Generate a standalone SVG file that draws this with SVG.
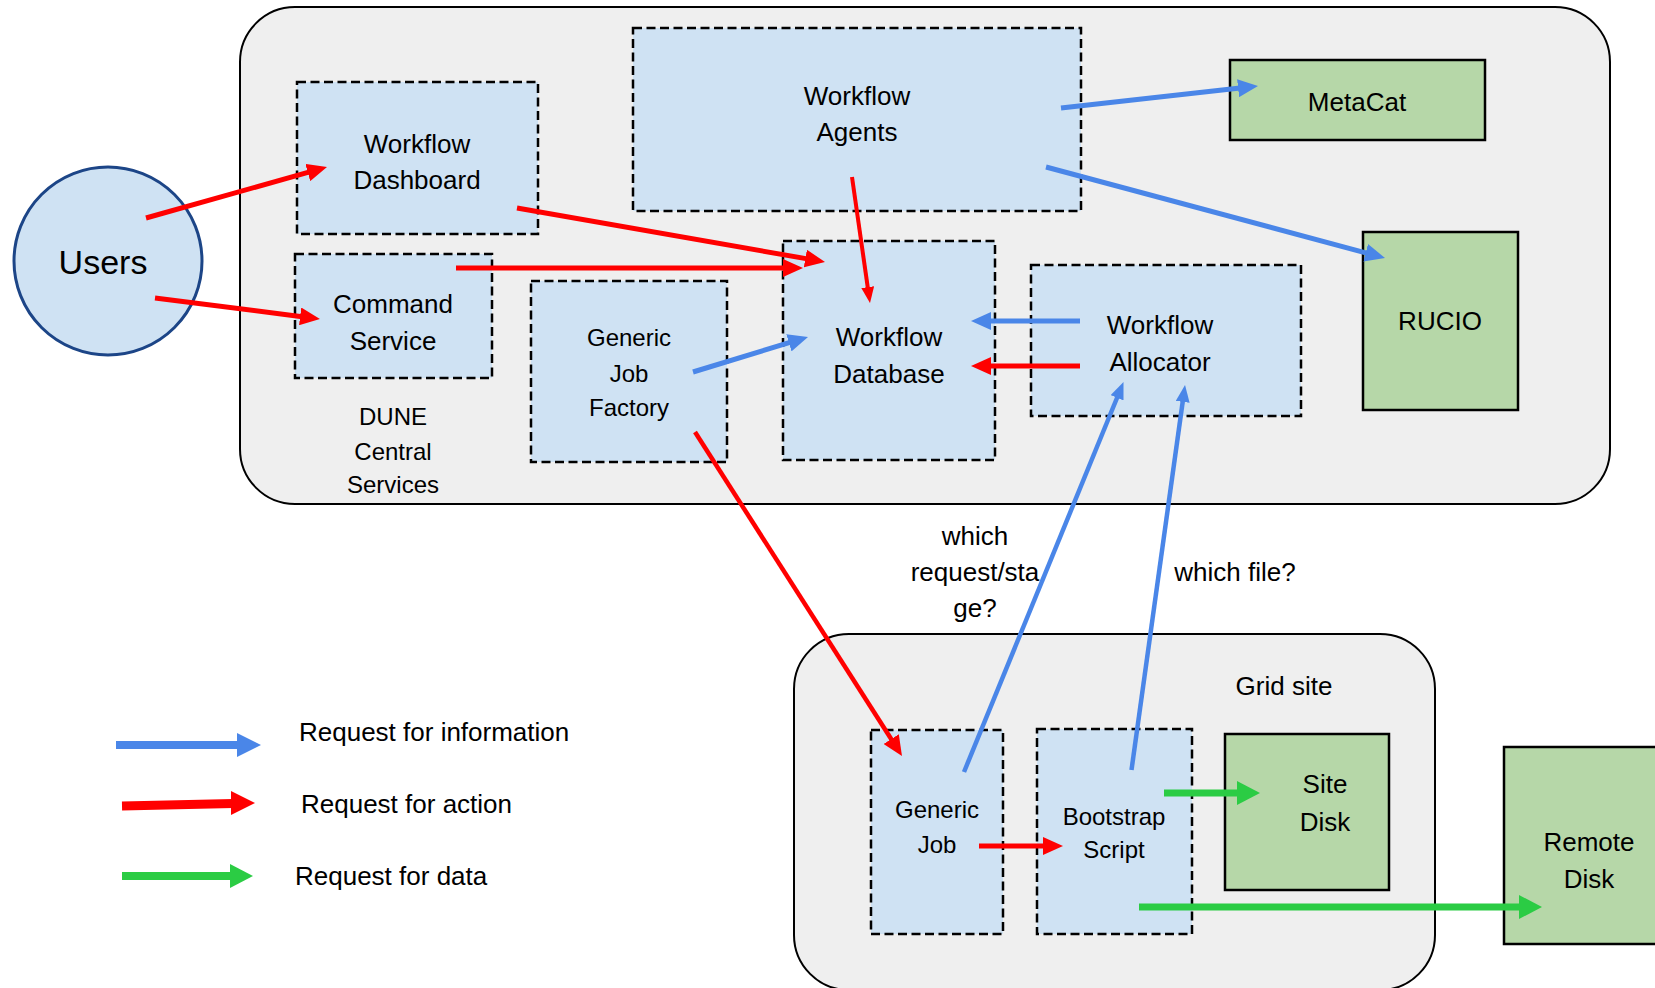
<svg xmlns="http://www.w3.org/2000/svg" width="1655" height="988" viewBox="0 0 1655 988">
<style>
.container{fill:#efefef;stroke:#000;stroke-width:2}
.bluebox{fill:#cfe2f3;stroke:#000;stroke-width:2.5;stroke-dasharray:9 4.5}
.greenbox{fill:#b6d7a8;stroke:#000;stroke-width:2.5}
text{font-family:"Liberation Sans",Arial,sans-serif;font-size:26px;fill:#000;text-anchor:middle}
.sm{font-size:24px}
.lg{text-anchor:start}
.red{stroke:#ff0000;stroke-width:5;fill:none}
.redthin{stroke:#ff0000;stroke-width:4;fill:none}
.blue{stroke:#4a86e8;stroke-width:5;fill:none}
.bluethin{stroke:#4a86e8;stroke-width:4.5;fill:none}
.green{stroke:#2bcc44;stroke-width:7;fill:none}
</style>
<defs>
<marker id="hRed" markerUnits="userSpaceOnUse" viewBox="0 0 20 18" markerWidth="20" markerHeight="18" refX="2" refY="9" orient="auto"><path d="M0,0 L20,9 L0,18 z" fill="#ff0000"/></marker>
<marker id="hRedThin" markerUnits="userSpaceOnUse" viewBox="0 0 16 13" markerWidth="16" markerHeight="13" refX="2" refY="6.5" orient="auto"><path d="M0,0 L16,6.5 L0,13 z" fill="#ff0000"/></marker>
<marker id="hBlue" markerUnits="userSpaceOnUse" viewBox="0 0 20 18" markerWidth="20" markerHeight="18" refX="2" refY="9" orient="auto"><path d="M0,0 L20,9 L0,18 z" fill="#4a86e8"/></marker>
<marker id="hBlueThin" markerUnits="userSpaceOnUse" viewBox="0 0 17 14" markerWidth="17" markerHeight="14" refX="3" refY="7" orient="auto"><path d="M0,0 L17,7 L0,14 z" fill="#4a86e8"/></marker>
<marker id="hGreen" markerUnits="userSpaceOnUse" viewBox="0 0 23 24" markerWidth="23" markerHeight="24" refX="2" refY="12" orient="auto"><path d="M0,0 L23,12 L0,24 z" fill="#2bcc44"/></marker>
</defs>
<rect width="1655" height="988" fill="#fff"/>

<g id="central-services">
<rect class="container" x="240" y="7" width="1370" height="497" rx="55" ry="55"/>
<text class="sm" x="393" y="425">DUNE</text>
<text class="sm" x="393" y="460">Central</text>
<text class="sm" x="393" y="493">Services</text>
</g>

<g id="grid-site">
<rect class="container" x="794" y="634" width="641" height="356" rx="55" ry="55"/>
<text x="1284" y="695">Grid site</text>
</g>

<g id="users">
<ellipse cx="108" cy="261" rx="94" ry="94" fill="#cfe2f3" stroke="#1c4587" stroke-width="3"/>
<text x="103" y="274" style="font-size:34px">Users</text>
</g>

<g id="workflow-dashboard">
<rect class="bluebox" x="297" y="82" width="241" height="152"/>
<text x="417" y="153">Workflow</text>
<text x="417" y="189">Dashboard</text>
</g>

<g id="command-service">
<rect class="bluebox" x="295" y="254" width="197" height="124"/>
<text x="393" y="313">Command</text>
<text x="393" y="350">Service</text>
</g>

<g id="generic-job-factory">
<rect class="bluebox" x="531" y="281" width="196" height="181"/>
<text class="sm" x="629" y="346">Generic</text>
<text class="sm" x="629" y="382">Job</text>
<text class="sm" x="629" y="416">Factory</text>
</g>

<g id="workflow-agents">
<rect class="bluebox" x="633" y="28" width="448" height="183"/>
<text x="857" y="105">Workflow</text>
<text x="857" y="141">Agents</text>
</g>

<g id="workflow-database">
<rect class="bluebox" x="783" y="241" width="212" height="219"/>
<text x="889" y="346">Workflow</text>
<text x="889" y="383">Database</text>
</g>

<g id="workflow-allocator">
<rect class="bluebox" x="1031" y="265" width="270" height="151"/>
<text x="1160" y="334">Workflow</text>
<text x="1160" y="371">Allocator</text>
</g>

<g id="metacat">
<rect class="greenbox" x="1230" y="60" width="255" height="80"/>
<text x="1357" y="111">MetaCat</text>
</g>

<g id="rucio">
<rect class="greenbox" x="1363" y="232" width="155" height="178"/>
<text x="1440" y="330">RUCIO</text>
</g>

<g id="generic-job">
<rect class="bluebox" x="871" y="730" width="132" height="204"/>
<text class="sm" x="937" y="818">Generic</text>
<text class="sm" x="937" y="853">Job</text>
</g>

<g id="bootstrap-script">
<rect class="bluebox" x="1037" y="729" width="155" height="205"/>
<text class="sm" x="1114" y="825">Bootstrap</text>
<text class="sm" x="1114" y="858">Script</text>
</g>

<g id="site-disk">
<rect class="greenbox" x="1225" y="734" width="164" height="156"/>
<text x="1325" y="793">Site</text>
<text x="1325" y="831">Disk</text>
</g>

<g id="remote-disk">
<rect class="greenbox" x="1504" y="747" width="160" height="197"/>
<text x="1589" y="851">Remote</text>
<text x="1589" y="888">Disk</text>
</g>

<g id="connectors">
<line class="red" x1="146" y1="218" x2="309.7" y2="171.9" marker-end="url(#hRed)"/>
<line class="red" x1="155" y1="298" x2="302.1" y2="316.7" marker-end="url(#hRed)"/>
<line class="red" x1="517" y1="208" x2="807.3" y2="258.9" marker-end="url(#hRed)"/>
<line class="red" x1="456" y1="268" x2="785" y2="268" marker-end="url(#hRed)"/>
<line class="redthin" x1="852" y1="177" x2="868" y2="289.1" marker-end="url(#hRedThin)"/>
<line class="red" style="stroke-width:4.5" x1="695" y1="432" x2="892.3" y2="740.8" marker-end="url(#hRed)"/>
<line class="red" x1="979" y1="846" x2="1045" y2="846" marker-end="url(#hRed)"/>
<line class="blue" x1="693" y1="372" x2="790.8" y2="342.2" marker-end="url(#hBlue)"/>
<line class="blue" x1="1061" y1="108" x2="1240.1" y2="88" marker-end="url(#hBlue)"/>
<line class="blue" x1="1046" y1="167" x2="1367.6" y2="253.3" marker-end="url(#hBlue)"/>
<line class="blue" x1="1080" y1="321" x2="989" y2="321" marker-end="url(#hBlue)"/>
<line class="red" x1="1080" y1="366" x2="989" y2="366" marker-end="url(#hRed)"/>
<line class="bluethin" x1="964" y1="772" x2="1118.2" y2="395" marker-end="url(#hBlueThin)"/>
<line class="bluethin" x1="1131.5" y1="770" x2="1183.1" y2="398.9" marker-end="url(#hBlueThin)"/>
<line class="green" x1="1164" y1="793" x2="1239" y2="793" marker-end="url(#hGreen)"/>
<line class="green" x1="1139" y1="907" x2="1521" y2="907" marker-end="url(#hGreen)"/>
</g>

<g id="connector-labels">
<text x="975" y="545">which</text>
<text x="975" y="581">request/sta</text>
<text x="975" y="617">ge?</text>
<text x="1235" y="581">which file?</text>
</g>

<g id="legend">
<line x1="116" y1="745" x2="239" y2="745" stroke="#4a86e8" stroke-width="8"/>
<polygon points="237,733 261,745 237,757" fill="#4a86e8"/>
<text class="lg" x="299" y="741">Request for information</text>
<line x1="122" y1="806" x2="233" y2="803.5" stroke="#ff0000" stroke-width="9"/>
<polygon points="231,791 255,803 231,815" fill="#ff0000"/>
<text class="lg" x="301" y="813">Request for action</text>
<line x1="122" y1="876" x2="232" y2="876" stroke="#2bcc44" stroke-width="8"/>
<polygon points="230,864 253,876 230,888" fill="#2bcc44"/>
<text class="lg" x="295" y="885">Request for data</text>
</g>
</svg>
